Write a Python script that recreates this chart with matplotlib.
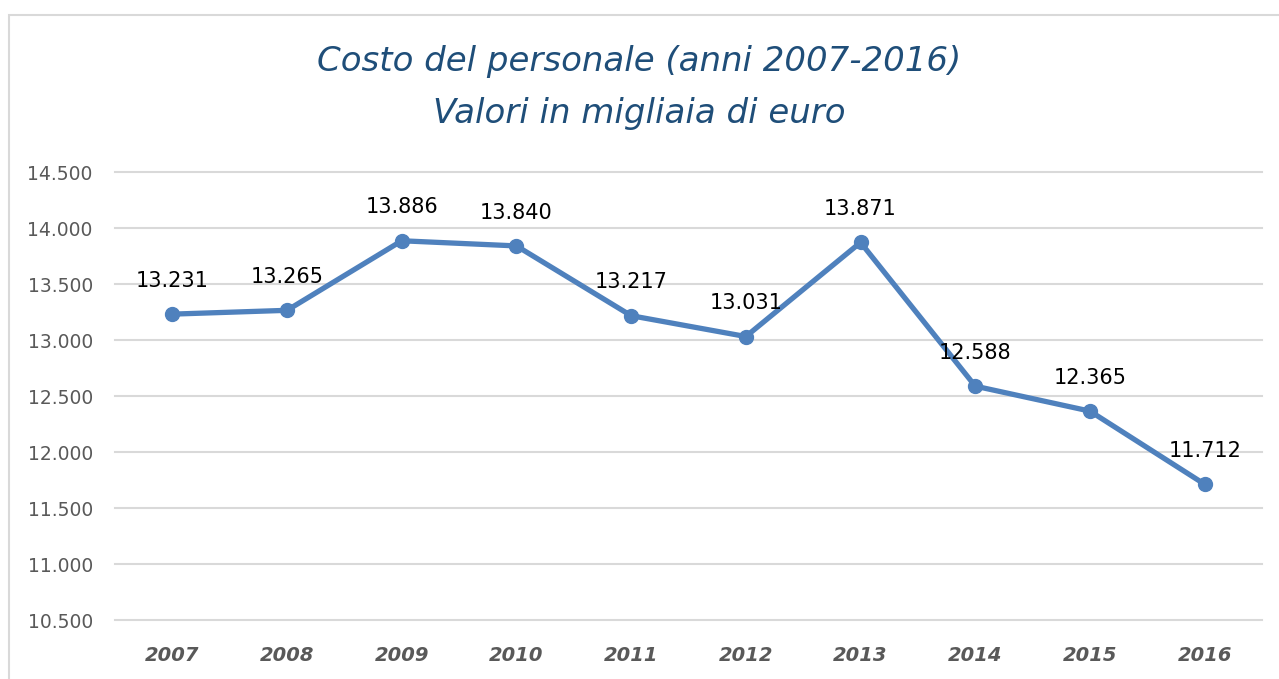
import matplotlib.pyplot as plt
from matplotlib.patches import Rectangle

years = ['2007', '2008', '2009', '2010', '2011', '2012', '2013', '2014', '2015', '2016']
costs = [13231, 13265, 13886, 13840, 13217, 13031, 13871, 12588, 12365, 11712]
yticks = [10500, 11000, 11500, 12000, 12500, 13000, 13500, 14000, 14500]


def fmt_it(v):
    # thousands separator with a dot, italian style
    return f'{v:,.0f}'.replace(',', '.')


fig = plt.figure(figsize=(12.79, 6.79), dpi=100)
ax = fig.add_axes([115 / 1279, 1 - 620 / 679, 1147 / 1279, 448 / 679])

# light frame around the chart area
fig.patches.append(Rectangle((9 / 1279, -0.1), 1.2, 1 - 15 / 679 + 0.1,
                             transform=fig.transFigure, fill=False,
                             edgecolor='#D9D9D9', linewidth=1.5))

x = list(range(len(years)))
ax.plot(x, costs, color='#4F81BD', linewidth=3.8, marker='o',
        markersize=10, solid_capstyle='round', zorder=3)

for xi, v in zip(x, costs):
    ax.annotate(fmt_it(v), (xi, v), xytext=(0, 24), textcoords='offset points',
                ha='center', va='center', fontsize=15, color='black', zorder=4)

ax.set_xlim(-0.5, len(years) - 0.5)
ax.set_ylim(10500, 14500)
ax.set_yticks(yticks)
ax.set_yticklabels([fmt_it(t) for t in yticks], fontsize=13.5, color='#595959')
ax.set_xticks(x)
ax.set_xticklabels(years, fontsize=14, fontweight='bold', style='italic',
                   color='#595959')
ax.tick_params(length=0)
ax.tick_params(axis='y', pad=16)
ax.tick_params(axis='x', pad=19)
ax.grid(axis='y', color='#D9D9D9', linewidth=1.5)
for gl in ax.get_ygridlines():
    gl.set_clip_on(False)
ax.set_axisbelow(True)
for s in ax.spines.values():
    s.set_visible(False)

fig.text(0.5, 1 - 62 / 679, 'Costo del personale (anni 2007-2016)',
         ha='center', va='center', fontsize=24.5, style='italic', color='#1F4E79')
fig.text(0.5, 1 - 113 / 679, 'Valori in migliaia di euro',
         ha='center', va='center', fontsize=24.5, style='italic', color='#1F4E79')

fig.savefig('out.png', dpi=100)
